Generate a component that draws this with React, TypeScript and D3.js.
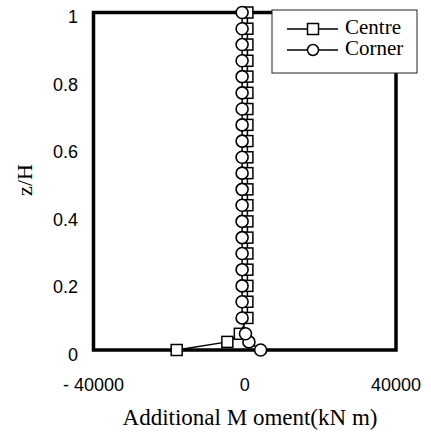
import * as d3 from 'd3';

const zLevels = [
  0, 0.024, 0.048, 0.095, 0.143, 0.19, 0.238, 0.286, 0.333, 0.381, 0.429, 0.476,
  0.524, 0.571, 0.619, 0.667, 0.714, 0.762, 0.81, 0.857, 0.905, 0.952, 1,
];
const centreValues = [
  -18000, -4600, -1300, 700, 700, 700, 700, 700, 700, 700, 700, 700,
  700, 700, 700, 700, 700, 700, 700, 700, 700, 700, 700,
];
const cornerValues = [
  4200, 1100, 200, -700, -700, -700, -700, -700, -700, -700, -700, -700,
  -700, -700, -700, -700, -700, -700, -700, -700, -700, -700, -700,
];
const xTicks = [-40000, 0, 40000];
const xTickLabels = ['- 40000', '0', '40000'];
const yTicks = [0, 0.2, 0.4, 0.6, 0.8, 1];
const yTickLabels = ['0', '0.2', '0.4', '0.6', '0.8', '1'];

const W = 431;
const H = 434;
const serif = '"Liberation Serif", "Times New Roman", serif';
const sans = '"Liberation Sans", Arial, sans-serif';

export default function App() {
  const x = d3.scaleLinear().domain([-40000, 40000]).range([93.5, 396]);
  const y = d3.scaleLinear().domain([0, 1]).range([350, 12.5]);

  const line = d3.line<[number, number]>()
    .x(d => x(d[0]))
    .y(d => y(d[1]));

  const centre: [number, number][] = zLevels.map((z, i) => [centreValues[i], z]);
  const corner: [number, number][] = zLevels.map((z, i) => [cornerValues[i], z]);

  const sq = 11;
  const r = 6;

  return (
    <svg width={W} height={H} style={{ position: 'absolute', left: 0, top: 0, background: '#fff' }}>
      {/* plot frame */}
      <rect x={x(-40000)} y={y(1)} width={x(40000) - x(-40000)} height={y(0) - y(1)}
        fill="none" stroke="#000" strokeWidth={3.5} />

      {/* Centre series */}
      <path d={line(centre) ?? ''} fill="none" stroke="#000" strokeWidth={1.5} />
      {centre.map((d, i) => (
        <rect key={'s' + i} x={x(d[0]) - sq / 2} y={y(d[1]) - sq / 2} width={sq} height={sq}
          fill="#fff" stroke="#000" strokeWidth={1.5} />
      ))}

      {/* Corner series */}
      <path d={line(corner) ?? ''} fill="none" stroke="#000" strokeWidth={1.5} />
      {corner.map((d, i) => (
        <circle key={'c' + i} cx={x(d[0])} cy={y(d[1])} r={r}
          fill="#fff" stroke="#000" strokeWidth={1.6} />
      ))}

      {/* y tick labels */}
      {yTicks.map((t, i) => (
        <text key={'yt' + i} x={78} y={y(t) + 6} textAnchor="end" dominantBaseline="middle"
          fontFamily={sans} fontSize={18} fill="#000">{yTickLabels[i]}</text>
      ))}

      {/* x tick labels */}
      {xTicks.map((t, i) => (
        <text key={'xt' + i} x={x(t)} y={391} textAnchor="middle"
          fontFamily={sans} fontSize={18} fill="#000">{xTickLabels[i]}</text>
      ))}

      {/* axis titles */}
      <text x={250} y={425} textAnchor="middle" fontFamily={serif} fontSize={23} fill="#000">
        Additional M oment(kN m)
      </text>
      <text transform={`translate(32, ${180}) rotate(-90)`} textAnchor="middle"
        fontFamily={serif} fontSize={22} fill="#000">z/H</text>

      {/* legend */}
      <g>
        <rect x={272} y={10} width={145} height={63} fill="#fff" stroke="#222" strokeWidth={1} />
        <line x1={287} x2={338} y1={29} y2={29} stroke="#000" strokeWidth={1.5} />
        <rect x={313 - sq / 2} y={29 - sq / 2} width={sq} height={sq} fill="#fff" stroke="#000" strokeWidth={1.5} />
        <text x={345} y={29} dominantBaseline="middle" fontFamily={serif} fontSize={21} fill="#000">Centre</text>
        <line x1={287} x2={338} y1={50} y2={50} stroke="#000" strokeWidth={1.5} />
        <circle cx={313} cy={50} r={5.5} fill="#fff" stroke="#000" strokeWidth={1.5} />
        <text x={345} y={50} dominantBaseline="middle" fontFamily={serif} fontSize={21} fill="#000">Corner</text>
      </g>
    </svg>
  );
}
